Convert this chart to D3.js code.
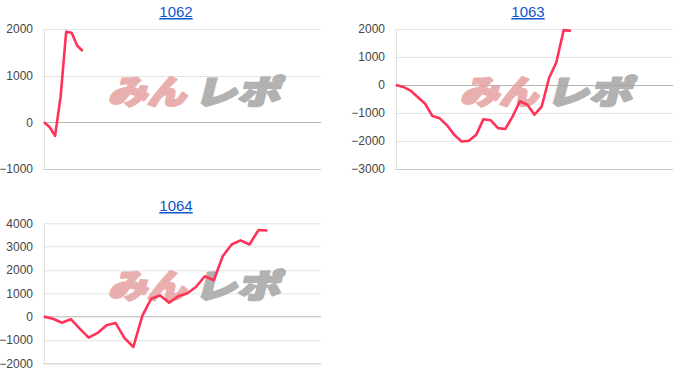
<!DOCTYPE html>
<html>
<head>
<meta charset="utf-8">
<script src="https://cdn.jsdelivr.net/npm/d3@7/dist/d3.min.js"></script>
<style>
body { margin: 0; background: #fff; }
svg { display: block; }
.tick-label { font-family: "Liberation Sans", Arial, sans-serif; font-size: 12px; fill: #444; }
.title { font-family: "Liberation Sans", Arial, sans-serif; font-size: 15px; fill: #1155cc; text-decoration: underline; }
.wm { font-family: "Noto Sans CJK JP", sans-serif; font-weight: 900; font-size: 33px; stroke-width: 2.4; stroke-linejoin: round; }
</style>
</head>
<body>
<svg id="mysvg" width="700" height="388"></svg>
<script>
var titles = ['1062', '1063', '1064']

var values1062 = [0, -100, -290, 550, 1940, 1920, 1640, 1530]
var values1063 = [0, -70, -200, -440, -670, -1110, -1190, -1440, -1780, -2020, -1990, -1780, -1220,
	-1260, -1540, -1570, -1120, -580, -700, -1060, -760, 250, 810, 1960, 1940]
var values1064 = [0, -90, -260, -110, -510, -900, -700, -370, -270, -910, -1300, 30, 770, 910,
	600, 870, 990, 1270, 1730, 1560, 2590, 3090, 3270, 3090, 3710, 3690]

var ticks1062 = [-1000, 0, 1000, 2000]
var ticks1063 = [-3000, -2000, -1000, 0, 1000, 2000]
var ticks1064 = [-2000, -1000, 0, 1000, 2000, 3000, 4000]

// length of the x axis (number of steps) for each chart
var xLengths = [50, 38, 31]

var series = [values1062, values1063, values1064]
var tickSets = [ticks1062, ticks1063, ticks1064]

// chart boxes: left / top of the plot area
var boxes = [
	{'left': 44, 'top': 29, 'titleX': 176, 'titleY': 17},
	{'left': 396, 'top': 29, 'titleX': 528, 'titleY': 17},
	{'left': 44, 'top': 223.3, 'titleX': 176, 'titleY': 211}
]
var plotW = 277
var plotH = 140

function drawChart(i) {
	var svg = d3.select("#mysvg")
	var box = boxes[i]
	var values = series[i]
	var ticks = tickSets[i]
	var g = svg.append("g").attr("transform", "translate(" + box['left'] + "," + box['top'] + ")")

	var x = d3.scaleLinear().domain([0, xLengths[i]]).range([0, plotW])
	var y = d3.scaleLinear().domain(d3.extent(ticks)).range([plotH, 0])

	// gridlines
	g.selectAll(".grid").data(ticks).enter().append("line")
		.attr("x1", -1).attr("x2", plotW)
		.attr("y1", function(d) { return Math.round(y(d)) + 0.5 })
		.attr("y2", function(d) { return Math.round(y(d)) + 0.5 })
		.attr("stroke", function(d, j) {
			if (d == 0) return '#b5b5b5'
			if (j == 0) return '#c8c8c8'
			return '#e3e3e3'
		})
		.attr("stroke-width", 1)

	// left axis line
	g.append("line")
		.attr("x1", 0.5).attr("x2", 0.5)
		.attr("y1", Math.round(y(ticks[ticks.length - 1]))).attr("y2", Math.round(y(ticks[0])) + 1)
		.attr("stroke", '#e0e0e0')

	// labels
	var axis = d3.axisLeft(y).tickValues(ticks).tickSize(0).tickPadding(11).tickFormat(d3.format('d'))
	var ag = g.append("g").call(axis)
	ag.select(".domain").remove()
	ag.selectAll("text").attr("class", "tick-label").attr("fill", null).attr("font-size", null).attr("font-family", null)

	// watermark
	var wm = g.append("g").attr("transform", "translate(62," + 75 + ") skewX(-14)").attr("opacity", 0.85)
	wm.append("text").attr("class", "wm").text("みん")
		.attr("x", 2).attr("y", 0)
		.attr("textLength", 78).attr("lengthAdjust", "spacingAndGlyphs")
		.attr("fill", '#e6a2a2').attr("stroke", '#e6a2a2')
	wm.append("text").attr("class", "wm").text("レポ")
		.attr("x", 88).attr("y", 0)
		.attr("textLength", 86).attr("lengthAdjust", "spacingAndGlyphs")
		.attr("fill", '#a5a5a5').attr("stroke", '#a5a5a5')

	// line
	var line = d3.line()
		.x(function(d, j) { return x(j) })
		.y(function(d) { return y(d) })
	g.append("path").datum(values)
		.attr("d", line)
		.attr("fill", "none")
		.attr("stroke", '#ff3358')
		.attr("stroke-width", 2.6)
		.attr("stroke-linejoin", "round")

	// title
	svg.append("text").attr("class", "title")
		.attr("x", box['titleX']).attr("y", box['titleY'])
		.attr("text-anchor", "middle")
		.text(titles[i])
}

for (var i = 0; i < titles.length; i++) {
	drawChart(i)
}
</script>
</body>
</html>
